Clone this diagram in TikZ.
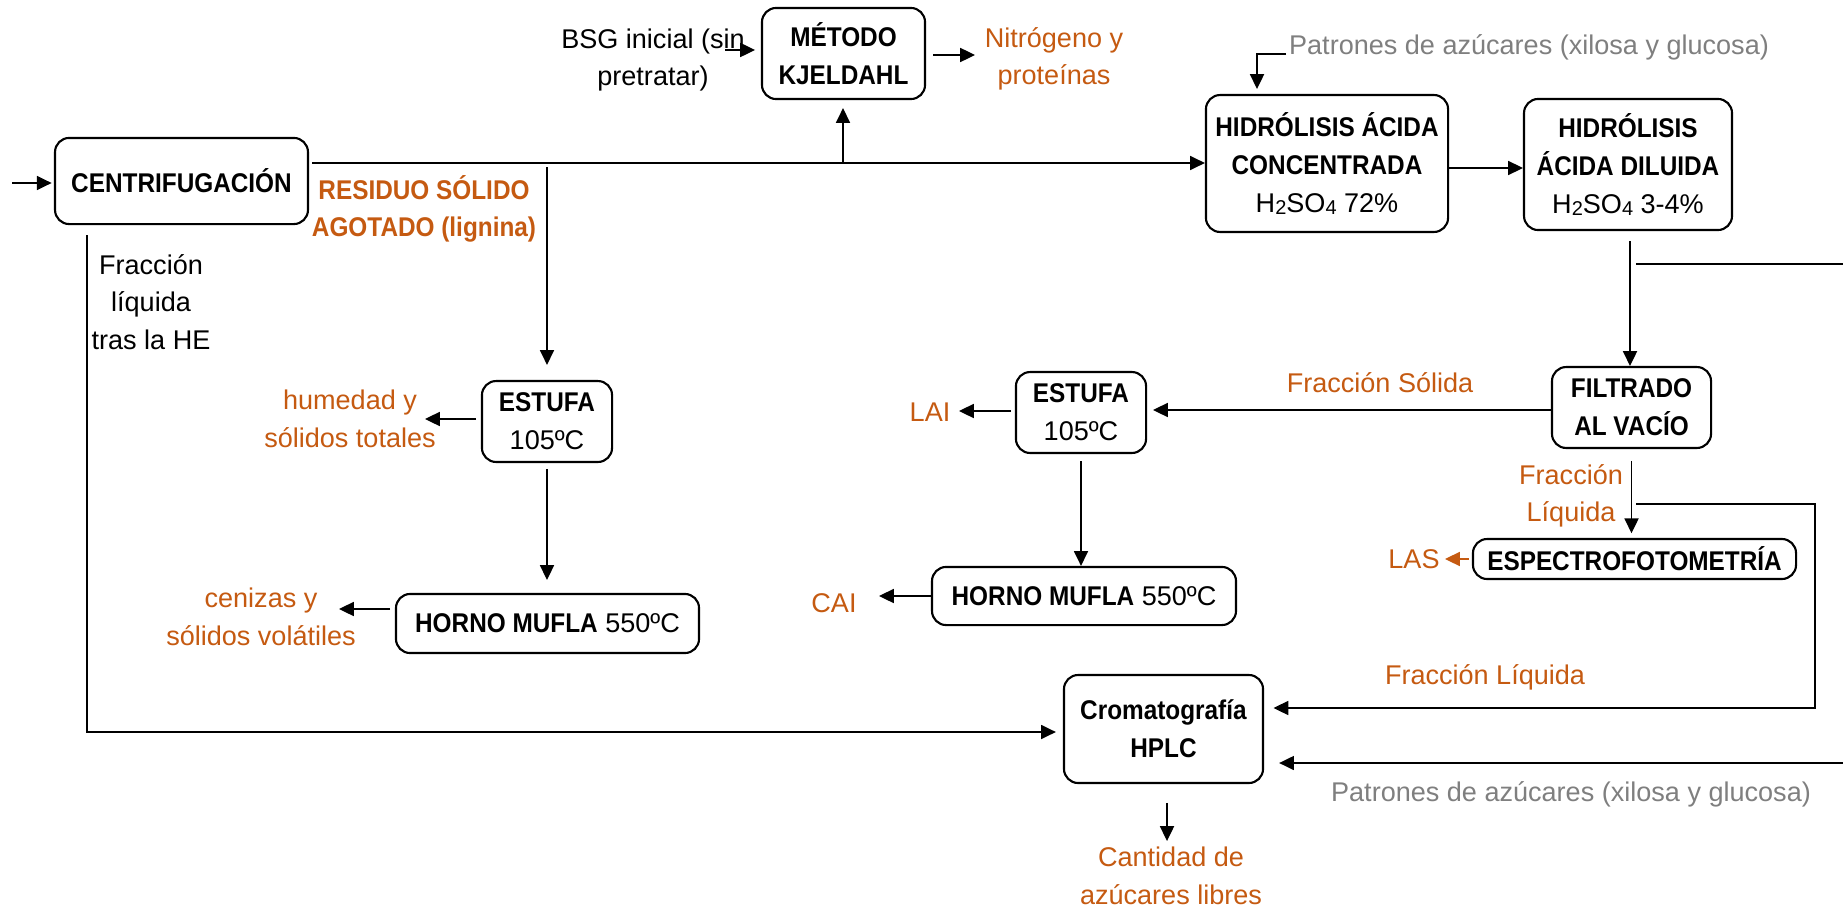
\documentclass[tikz,border=0pt]{standalone}
\usepackage{fontspec}
\setmainfont{Liberation Sans}[BoldFeatures={FakeStretch=0.9}]
\usetikzlibrary{arrows.meta}
\definecolor{org}{HTML}{C55A11}
\definecolor{gry}{HTML}{7F7F7F}
\newcommand{\lowsub}[1]{\raisebox{-0.9pt}{\fontsize{8.5}{8.5}\selectfont #1}}
\begin{document}
\begin{tikzpicture}[x=0.425pt,y=-0.425pt,
  font=\fontsize{11.5}{16}\selectfont,
  box/.style={draw,line width=0.9pt,rounded corners=6pt,align=center,inner sep=1pt},
  lbl/.style={align=center,inner sep=1pt},
  olbl/.style={lbl,text=org},
  glbl/.style={lbl,text=gry},
  arr/.style={line width=0.55pt,-{Triangle[length=6.3pt,width=6pt]}},
  ln/.style={line width=0.55pt}]
\useasboundingbox (0,0) rectangle (1843,911);

% boxes
\node[box,minimum width=107.5pt,minimum height=36.6pt] (cen) at (181.5,181) {\textbf{CENTRIFUGACIÓN}};
\node[box,minimum width=69.3pt,minimum height=38.7pt] (kj) at (843.5,53.5) {\textbf{MÉTODO}\\\textbf{KJELDAHL}};
\node[box,minimum width=102.9pt,minimum height=58.2pt] (hac) at (1327,163.5) {\textbf{HIDRÓLISIS ÁCIDA}\\\textbf{CONCENTRADA}\\H\lowsub{2}SO\lowsub{4} 72\%};
\node[box,minimum width=88.4pt,minimum height=55.7pt] (had) at (1628,164.5) {\textbf{HIDRÓLISIS}\\\textbf{ÁCIDA DILUIDA}\\H\lowsub{2}SO\lowsub{4} 3-4\%};
\node[box,minimum width=55.3pt,minimum height=34.4pt] (est1) at (547,421.5) {\textbf{ESTUFA}\\105ºC};
\node[box,minimum width=128.8pt,minimum height=25.1pt] (hor1) at (547.5,623.5) {\textbf{HORNO MUFLA} 550ºC};
\node[box,minimum width=55.3pt,minimum height=34.4pt] (est2) at (1081,412.5) {\textbf{ESTUFA}\\105ºC};
\node[box,minimum width=129.2pt,minimum height=24.7pt] (hor2) at (1084,596) {\textbf{HORNO MUFLA} 550ºC};
\node[box,minimum width=67.6pt,minimum height=34.4pt] (fil) at (1631.5,407.5) {\textbf{FILTRADO}\\\textbf{AL VACÍO}};
\node[box,minimum width=137.3pt,minimum height=17pt] (esp) at (1634.5,559) {\textbf{ESPECTROFOTOMETRÍA}};
\node[box,minimum width=84.6pt,minimum height=45.9pt] (cro) at (1163.5,729) {\textbf{Cromatografía}\\\textbf{HPLC}};

% labels
\node[lbl] (bsg) at (653,60) {BSG inicial (sin\\pretratar)};
\node[olbl] (nit) at (1054,59) {Nitrógeno y\\proteínas};
\node[olbl] (res) at (424,209) {\textbf{RESIDUO SÓLIDO}\\\textbf{AGOTADO (lignina)}};
\node[lbl] (frl) at (151,302) {Fracción\\líquida\\tras la HE};
\node[olbl] (hum) at (350,419) {humedad y\\sólidos totales};
\node[olbl] (cenz) at (261,617) {cenizas y\\sólidos volátiles};
\node[olbl] (lai) at (930,412) {LAI};
\node[olbl] (cai) at (834,603) {CAI};
\node[olbl] (fsol) at (1380,383) {Fracción Sólida};
\node[glbl] (pt) at (1529,47) {Patrones de azúcares (xilosa y glucosa)};
\node[olbl] (fliq2) at (1571,496) {Fracción\\Líquida};
\node[olbl] (las) at (1414,559) {LAS};
\node[olbl] (fliq) at (1485,677) {Fracción Líquida};
\node[glbl] (pb) at (1571,794) {Patrones de azúcares (xilosa y glucosa)};
\node[olbl] (cant) at (1171,876) {Cantidad de\\azúcares libres};

% connectors
\coordinate (in0) at (12,183);
\draw[arr,shorten >=1pt] (in0) -- (in0 -| cen.west);

\coordinate (m0) at (312,163);
\draw[arr] (m0) -- (m0 -| hac.west);

\coordinate (kb) at (843,163);
\draw[arr,shorten >=3.4pt] (kb) -- (kb |- kj.south);

\coordinate (b0) at (725,50);
\draw[arr,shorten >=2.5pt] (b0) -- (b0 -| kj.west);

\coordinate (k1) at (975,55);
\draw[arr,shorten <=3pt] (k1 -| kj.east) -- (k1);

\coordinate (v1) at (547,167);
\draw[arr,shorten >=6.4pt] (v1) -- (v1 |- est1.north);

\coordinate (h1) at (425,419);
\draw[arr,shorten <=2pt] (h1 -| est1.west) -- (h1);

\draw[arr,shorten <=2.5pt,shorten >=5.5pt] (est1.south) -- (est1.south |- hor1.north);

\coordinate (c1) at (339,609);
\draw[arr,shorten <=2pt] (c1 -| hor1.west) -- (c1);

\coordinate (l0) at (87,235);
\coordinate (l1) at (87,732);
\draw[arr,shorten >=3pt] (l0) -- (l1) -- (l1 -| cro.west);

\coordinate (f0) at (1500,410);
\draw[arr,shorten >=2.5pt] (f0 -| fil.west) -- (f0 -| est2.east);

\coordinate (e1) at (959,411);
\draw[arr,shorten <=1.7pt] (e1 -| est2.west) -- (e1);

\draw[arr,shorten <=3pt] (est2.south) -- (est2.south |- hor2.north);

\coordinate (c2) at (879,596);
\draw[arr] (c2 -| hor2.west) -- (c2);

\coordinate (p0) at (1286,54);
\coordinate (p1) at (1257,89);
\draw[arr] (p0) -| (p1);

\coordinate (a0) at (1490,168);
\draw[arr] (a0 -| hac.east) -- (a0 -| had.west);

\coordinate (d0) at (1630,241);
\draw[arr] (d0) -- (d0 |- fil.north);

\coordinate (r0) at (1636,264);
\coordinate (r1) at (1843,264);
\draw[ln] (r0) -- (r1);

\draw[arr,shorten <=5pt,shorten >=2pt] (fil.south) -- (fil.south |- esp.north);

\coordinate (s1) at (1445,559);
\draw[arr,org,shorten <=1.3pt] (s1 -| esp.west) -- (s1);

\coordinate (q0) at (1636,504);
\coordinate (q1) at (1815,504);
\coordinate (q2) at (1815,708);
\draw[arr,shorten >=4pt] (q0) -- (q1) -- (q2) -- (q2 -| cro.east);

\coordinate (s0) at (1843,763);
\draw[arr,shorten >=6.4pt] (s0) -- (s0 -| cro.east);

\coordinate (z1) at (1167,841);
\draw[arr,shorten <=8pt] (z1 |- cro.south) -- (z1);
\end{tikzpicture}
\end{document}
